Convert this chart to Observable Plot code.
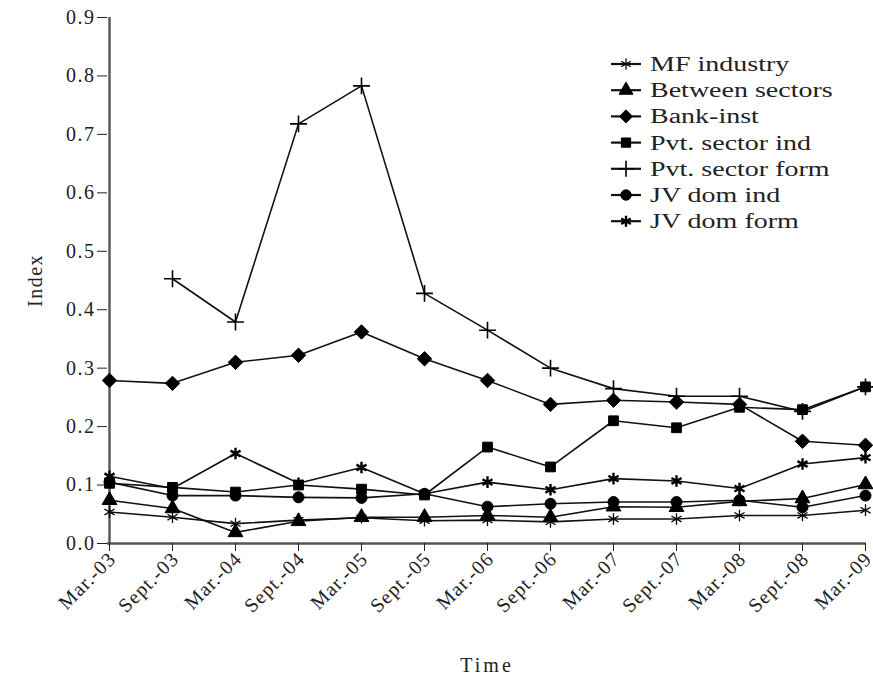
<!DOCTYPE html>
<html>
<head>
<meta charset="utf-8">
<script src="https://cdn.jsdelivr.net/npm/d3@7"></script>
<script src="https://cdn.jsdelivr.net/npm/@observablehq/plot@0.6"></script>
<style>
  body { margin: 0; background: #fff; }
  #wrap { position: relative; width: 873px; height: 681px; }
  #legend { position: absolute; left: 0; top: 0; }
  #wrap g[aria-label="y-axis tick label"] text { font-size: 20px !important; letter-spacing: 1.5px; }
  #wrap g[aria-label="x-axis tick label"] text { font-size: 20px !important; letter-spacing: 1.1px; }
  #wrap g[aria-label="x-axis label"] text { font-size: 20px !important; letter-spacing: 3px; }
  #wrap g[aria-label="y-axis label"] text { font-size: 20px !important; letter-spacing: 1.5px; }
</style>
</head>
<body>
<div id="wrap"></div>
<script>
const periods = ["Mar.-03","Sept.-03","Mar.-04","Sept.-04","Mar.-05","Sept.-05","Mar.-06","Sept.-06","Mar.-07","Sept.-07","Mar.-08","Sept.-08","Mar.-09"];
const seriesNames = ["MF industry","Between sectors","Bank-inst","Pvt. sector ind","Pvt. sector form","JV dom ind","JV dom form"];
const mfIndustry     = [0.054,0.045,0.034,0.040,0.044,0.039,0.040,0.037,0.042,0.042,0.048,0.048,0.057];
const betweenSectors = [0.074,0.060,0.019,0.038,0.045,0.045,0.048,0.045,0.063,0.062,0.072,0.077,0.101];
const bankInst       = [0.279,0.274,0.310,0.322,0.362,0.316,0.279,0.238,0.245,0.242,0.238,0.175,0.168];
const pvtSectorInd   = [0.103,0.096,0.088,0.100,0.093,0.083,0.165,0.131,0.210,0.198,0.233,0.229,0.268];
const pvtSectorForm  = [null,0.453,0.379,0.718,0.783,0.428,0.365,0.300,0.265,0.252,0.252,0.226,0.268];
const jvDomInd       = [0.105,0.082,0.082,0.079,0.078,0.085,0.063,0.068,0.071,0.071,0.074,0.062,0.082];
const jvDomForm      = [0.115,0.094,0.154,0.103,0.130,0.085,0.105,0.092,0.111,0.107,0.094,0.136,0.147];
const yTicks = [0,0.1,0.2,0.3,0.4,0.5,0.6,0.7,0.8,0.9];

const seriesValues = [mfIndustry, betweenSectors, bankInst, pvtSectorInd, pvtSectorForm, jvDomInd, jvDomForm];
const symbols = ["asterisk","triangle","diamond2","square","plus","circle","asterisk"];
const filled  = [false, true, true, true, false, true, false];
const sw      = [1.3, 1, 1, 1, 1.6, 1, 2.4];

const rows = [];
seriesNames.forEach((s, i) => {
  seriesValues[i].forEach((v, j) => {
    if (v != null) rows.push({series: s, period: periods[j], value: v, idx: i});
  });
});

const FONT = "'Liberation Serif', 'DejaVu Serif', serif";
const marks = [
  Plot.ruleY([0], {stroke: "#555", strokeWidth: 2.4}),
  Plot.ruleX([periods[0]], {stroke: "#555", strokeWidth: 2.4}),
  Plot.axisY({ticks: yTicks, tickFormat: d3.format(".1f"), tickSize: 10, tickPadding: 2,
    label: "Index", labelAnchor: "center", labelArrow: "none", labelOffset: 80}),
  // tick marks only
  Plot.axisX({tickSize: 8, tickFormat: () => "", label: null}),
  // rotated labels, nudged slightly right of the ticks as in the reference
  Plot.axisX({tickRotate: -45, tickSize: 0, tickPadding: 12, dx: 3,
    label: "Time", labelAnchor: "center", labelArrow: "none", labelOffset: 128})
];
seriesNames.forEach((s, i) => {
  const d = rows.filter(r => r.series === s);
  marks.push(Plot.line(d, {x: "period", y: "value", stroke: "#111", strokeWidth: 1.6}));
});
seriesNames.forEach((s, i) => {
  const d = rows.filter(r => r.series === s);
  marks.push(Plot.dot(d, {x: "period", y: "value", symbol: () => symbols[i],
    r: i === 2 ? 6.5 : 5.5,
    fill: filled[i] ? "#000" : "none", stroke: "#000", strokeWidth: sw[i]}));
});

const chart = Plot.plot({
  width: 873, height: 681,
  marginLeft: 107, marginRight: 7, marginTop: 17, marginBottom: 138,
  style: {fontFamily: FONT, fontSize: "20px", color: "#222", background: "#fff", overflow: "visible"},
  x: {type: "point", domain: periods, padding: 0, label: null},
  y: {domain: [0, 0.9], label: null},
  symbol: {type: "identity"},
  marks
});
document.getElementById("wrap").appendChild(chart);

// Legend overlay
const symMap = {asterisk: d3.symbolAsterisk, triangle: d3.symbolTriangle, diamond2: d3.symbolDiamond2,
  square: d3.symbolSquare, plus: d3.symbolPlus, circle: d3.symbolCircle};
const lg = d3.select("#wrap").append("svg").attr("id", "legend")
  .attr("width", 873).attr("height", 681)
  .style("font-family", FONT).style("font-size", "20px");
seriesNames.forEach((s, i) => {
  const y = 64 + i * 26.2;
  const g = lg.append("g").attr("transform", `translate(0,${y})`);
  g.append("line").attr("x1", 611).attr("x2", 641).attr("y1", 0).attr("y2", 0)
    .attr("stroke", "#111").attr("stroke-width", 2.2);
  g.append("path").attr("transform", "translate(626,0)")
    .attr("d", d3.symbol(symMap[symbols[i]], i === 2 ? 110 : 85)())
    .attr("fill", filled[i] ? "#000" : "none").attr("stroke", "#000").attr("stroke-width", sw[i]);
  g.append("text").attr("transform", "translate(650,0) scale(1.4,1)")
    .attr("dy", "0.35em").attr("fill", "#222").text(s);
});
</script>
</body>
</html>
